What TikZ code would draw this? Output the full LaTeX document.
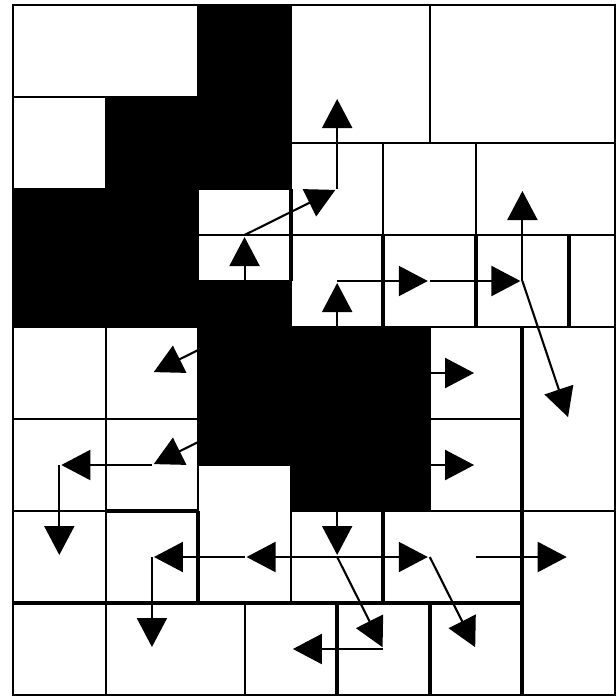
\documentclass[tikz,border=0pt]{standalone}
\usetikzlibrary{arrows.meta}
\begin{document}
\begin{tikzpicture}[x=46.31pt,y=-46pt,
  cellbox/.style={fill=white,draw=black,line width=2pt},
  thickln/.style={draw=black,line width=4pt},
  medln/.style={draw=black,line width=2.8pt},
  frameln/.style={draw=black,line width=2.4pt},
  arr/.style={draw=black,line width=2.1pt,-{Triangle[length=29pt,width=30pt]},shorten >=2pt}]
\useasboundingbox (-0.2807,-0.1087) rectangle (13.0209,15.0435);
% grid points
\foreach \i in {0,...,13}{\foreach \j in {0,...,15}{\coordinate (g\i-\j) at (\i,\j);}}
\coordinate (h1) at (4,7.5);
\coordinate (h2) at (4,9.5);
% obstacles (black background)
\fill[black] (g0-0) rectangle (g13-15);
% free cells
\foreach \a/\b/\c/\d in {0/0/4/2, 6/0/9/3, 9/0/13/3, 0/2/2/4,
  6/3/8/5, 8/3/10/5, 10/3/13/5, 4/4/6/5, 4/5/6/6,
  6/5/8/7, 8/5/10/7, 10/5/12/7, 12/5/13/7,
  0/7/2/9, 2/7/4/9, 0/9/2/11, 2/9/4/11,
  9/7/11/9, 9/9/11/11, 11/7/13/11,
  4/10/6/13, 0/11/2/13, 2/11/4/13, 6/11/8/13, 8/11/11/13, 11/11/13/15,
  0/13/2/15, 2/13/5/15, 5/13/7/15, 7/13/9/15, 9/13/11/15}
  {\draw[cellbox] (g\a-\b) rectangle (g\c-\d);}
% heavier borders
\draw[thickln] (g8-5) -- (g8-7);
\draw[thickln] (g10-5) -- (g10-7);
\draw[thickln] (g12-5) -- (g12-7);
\draw[thickln] (g6-4) -- (g6-6);
\draw[thickln] (g11-7) -- (g11-15);
\draw[thickln] (g0-13) -- (g11-13);
\draw[thickln] (g2-11) -- (g4-11);
\draw[thickln] (g4-11) -- (g4-13);
\draw[thickln] (g8-11) -- (g8-13);
\draw[thickln] (g7-13) -- (g7-15);
\draw[thickln] (g9-13) -- (g9-15);
\draw[medln] (g9-11) -- (g13-11);
\draw[frameln] (g0-0) rectangle (g13-15);
% arrows
\draw[arr] (g5-6) -- (g5-5);
\draw[arr] (g5-5) -- (g7-4);
\draw[arr] (g7-4) -- (g7-2);
\draw[arr] (g7-7) -- (g7-6);
\draw[arr] (g7-6) -- (g9-6);
\draw[arr] (g9-6) -- (g11-6);
\draw[arr] (g11-6) -- (g11-4);
\draw[arr] (g11-6) -- (g12-9);
\draw[arr] (h1) -- (g3-8);
\draw[arr] (h2) -- (g3-10);
\draw[arr] (g3-10) -- (g1-10);
\draw[arr] (g1-10) -- (g1-12);
\draw[arr] (g9-8) -- (g10-8);
\draw[arr] (g9-10) -- (g10-10);
\draw[arr] (g7-11) -- (g7-12);
\draw[arr] (g7-12) -- (g5-12);
\draw[arr] (g5-12) -- (g3-12);
\draw[arr] (g3-12) -- (g3-14);
\draw[arr] (g7-12) -- (g8-14);
\draw[arr] (g8-14) -- (g6-14);
\draw[arr] (g7-12) -- (g9-12);
\draw[arr] (g9-12) -- (g10-14);
\draw[arr] (g10-12) -- (g12-12);
\end{tikzpicture}
\end{document}
